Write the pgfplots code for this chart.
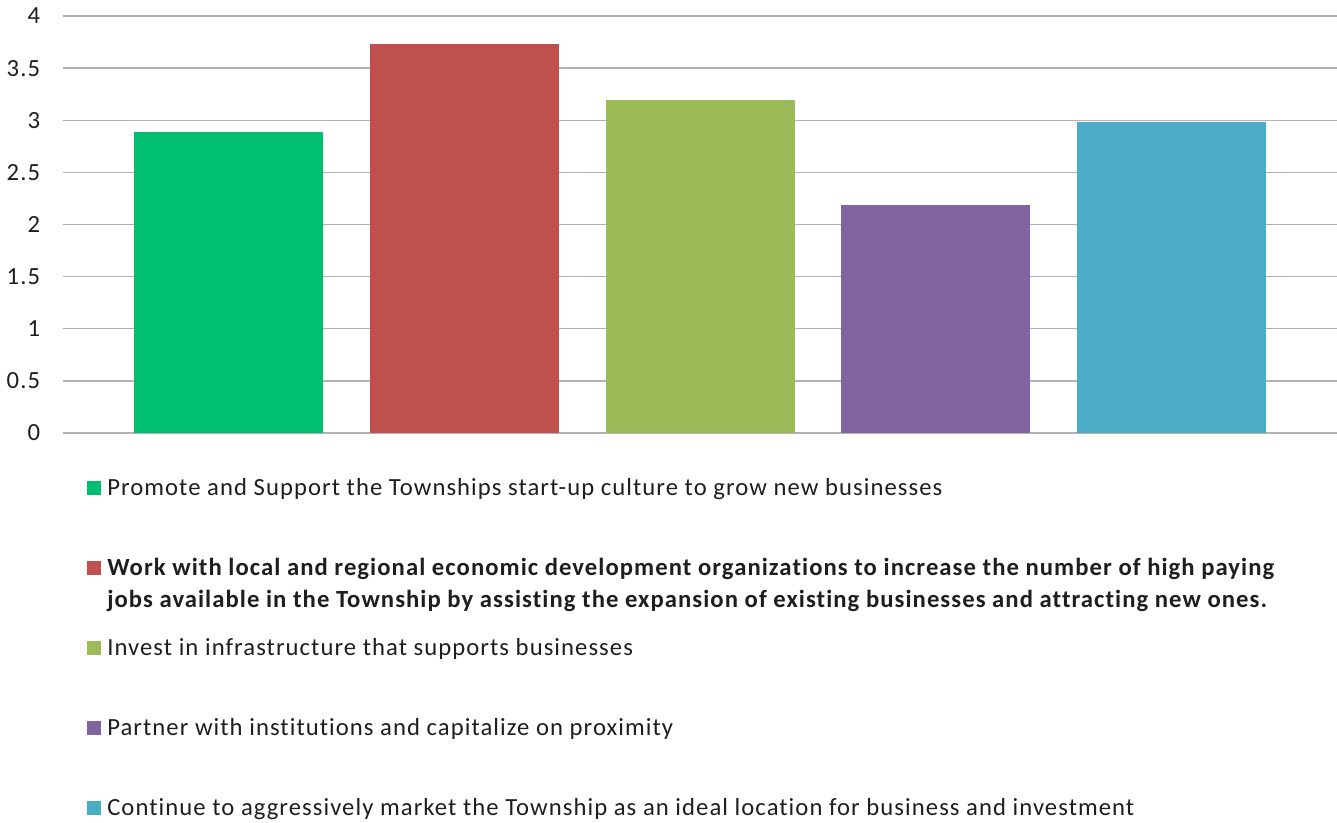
\documentclass[border=0pt]{standalone}
\usepackage{pgfplots}
\pgfplotsset{compat=1.18}
\usepackage{fontspec}
\setmainfont{Carlito}[LetterSpace=4.3, Ligatures=NoCommon]
\definecolor{cA}{RGB}{0,191,111}
\definecolor{cB}{RGB}{192,80,77}
\definecolor{cC}{RGB}{155,187,89}
\definecolor{cD}{RGB}{128,100,162}
\definecolor{cE}{RGB}{75,172,198}
\definecolor{gridc}{RGB}{178,178,178}
\definecolor{txt}{RGB}{30,30,30}
\begin{document}
\begin{tikzpicture}
\begin{axis}[
  at={(0,0)}, anchor=south west,
  scale only axis, width=955.5pt, height=312.75pt,
  ybar, bar width=141.75pt, bar shift=0pt,
  xmin=-0.7, xmax=4.7, ymin=0, ymax=4,
  ytick={0,0.5,1,1.5,2,2.5,3,3.5,4},
  xtick=\empty,
  ymajorgrids, major grid style={gridc, line width=1pt},
  axis line style={draw=none},
  tick style={draw=none},
  /pgf/number format/assume math mode=true,
  yticklabel style={font=\fontsize{18.5}{22}\selectfont, text=txt, inner sep=0pt, xshift=-17pt},
  legend style={at={(0,0)}, anchor=north west, xshift=18pt, yshift=-33.5pt,
    draw=none, fill=none, inner sep=0pt, row sep=0pt,
    font=\fontsize{18.5}{24}\selectfont, text=txt,
    cells={anchor=base west},
    nodes={text height=13pt, text depth=47pt, inner xsep=4.5pt, inner ysep=0pt}},
  legend columns=1,
]
\addplot[fill=cA, draw=none, legend image code/.code={\fill[cA] (0pt,0pt) rectangle (10.5pt,10.5pt);}] coordinates {(0,2.89)};
\addlegendentry{Promote and Support the Townships start-up culture to grow new businesses}
\addplot[fill=cB, draw=none, legend image code/.code={\fill[cB] (0pt,0pt) rectangle (10.5pt,10.5pt);}] coordinates {(1,3.73)};
\addlegendentry{\begin{tabular}[t]{@{}l@{}}\bfseries Work with local and regional economic development organizations to increase the number of high paying\\\bfseries jobs available in the Township by assisting the expansion of existing businesses and attracting new ones.\end{tabular}}
\addplot[fill=cC, draw=none, legend image code/.code={\fill[cC] (0pt,0pt) rectangle (10.5pt,10.5pt);}] coordinates {(2,3.19)};
\addlegendentry{Invest in infrastructure that supports businesses}
\addplot[fill=cD, draw=none, legend image code/.code={\fill[cD] (0pt,0pt) rectangle (10.5pt,10.5pt);}] coordinates {(3,2.19)};
\addlegendentry{Partner with institutions and capitalize on proximity}
\addplot[fill=cE, draw=none, legend image code/.code={\fill[cE] (0pt,0pt) rectangle (10.5pt,10.5pt);}] coordinates {(4,2.98)};
\addlegendentry{Continue to aggressively market the Township as an ideal location for business and investment}
\end{axis}
\pgfresetboundingbox
\path[use as bounding box] ([xshift=-47.25pt, yshift=-292.5pt]current axis.south west) rectangle ([yshift=12pt]current axis.north east);
\end{tikzpicture}
\end{document}
